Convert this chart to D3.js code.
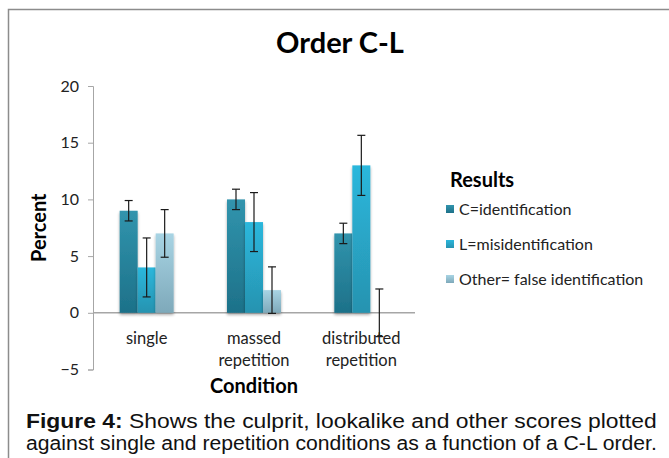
<!DOCTYPE html>
<html>
<head>
<meta charset="utf-8">
<script src="https://cdn.jsdelivr.net/npm/d3@7"></script>
<style>
  body { margin: 0; background: #fff; }
  svg { display: block; }
</style>
</head>
<body>
<div id="chart"></div>
<script>
var categories = [["single"], ["massed", "repetition"], ["distributed", "repetition"]];
var seriesNames = ["C=identification", "L=misidentification", "Other= false identification"];
var cValues = [9, 10, 7];
var lValues = [4, 8, 13];
var otherValues = [7, 2, 0];
var cErrors = [0.9, 0.9, 0.9];
var lErrors = [2.6, 2.6, 2.65];
var otherErrors = [2.1, 2.05, 2.1];
var yTicks = [-5, 0, 5, 10, 15, 20];

var series = [
  {name: seriesNames[0], values: cValues, errors: cErrors, top: "#3194ad", bottom: "#1d7189"},
  {name: seriesNames[1], values: lValues, errors: lErrors, top: "#2bb7dc", bottom: "#2793b0"},
  {name: seriesNames[2], values: otherValues, errors: otherErrors, top: "#a8d4e4", bottom: "#7ea9ba"}
];

var width = 669, height = 458;
var font = "Lato, 'Open Sans', sans-serif";
var svg = d3.select("#chart").append("svg")
  .attr("width", width)
  .attr("height", height);

var defs = svg.append("defs");
series.forEach(function(s, i){
  var g = defs.append("linearGradient")
    .attr("id", "grad" + i)
    .attr("x1", 0).attr("y1", 0).attr("x2", 0).attr("y2", 1);
  g.append("stop").attr("offset", "0%").attr("stop-color", s.top);
  g.append("stop").attr("offset", "100%").attr("stop-color", s.bottom);
});
var filt = defs.append("filter").attr("id", "shadow")
  .attr("x", "-20%").attr("y", "-10%").attr("width", "140%").attr("height", "130%");
filt.append("feGaussianBlur").attr("in", "SourceAlpha").attr("stdDeviation", 1.5);
filt.append("feOffset").attr("dx", 0).attr("dy", 2).attr("result", "ob");
filt.append("feComponentTransfer").append("feFuncA").attr("type", "linear").attr("slope", 0.35);
var merge = filt.append("feMerge");
merge.append("feMergeNode");
merge.append("feMergeNode").attr("in", "SourceGraphic");

// frame
svg.append("path")
  .attr("d", "M8.5," + height + "V9.5H" + width)
  .attr("fill", "none")
  .attr("stroke", "#8c8c8c")
  .attr("stroke-width", 1.5);

var x0 = d3.scaleBand()
  .domain(d3.range(categories.length))
  .range([93, 415]);
var barW = 18;
var y = d3.scaleLinear().domain([-5, 20]).range([369.5, 86]);

// title
svg.append("text")
  .attr("x", 340).attr("y", 53)
  .attr("text-anchor", "middle")
  .attr("font-family", font)
  .attr("font-weight", "bold")
  .attr("font-size", 29)
  .attr("fill", "#000")
  .text("Order C-L");

// y axis
var yAxis = svg.append("g")
  .attr("transform", "translate(93,0)")
  .call(d3.axisLeft(y).tickValues(yTicks).tickSize(5).tickPadding(9));
yAxis.select(".domain").attr("stroke", "#a6a6a6");
yAxis.selectAll(".tick line").attr("stroke", "#a6a6a6");
yAxis.selectAll(".tick text")
  .attr("font-family", font)
  .attr("font-size", 16)
  .attr("fill", "#222");

// zero line
svg.append("line")
  .attr("x1", 93).attr("x2", 415)
  .attr("y1", y(0)).attr("y2", y(0))
  .attr("stroke", "#a6a6a6")
  .attr("stroke-width", 1.5);

// bars
var groups = svg.selectAll("g.group")
  .data(categories)
  .enter()
  .append("g")
  .attr("class", "group")
  .attr("transform", function(d, i){ return "translate(" + (x0(i) + x0.bandwidth() / 2) + ",0)"; });

series.forEach(function(s, si){
  var off = (si - 1) * barW - barW / 2;
  groups.append("rect")
    .attr("x", off)
    .attr("width", barW)
    .attr("y", function(d, i){ return y(Math.max(0, s.values[i])); })
    .attr("height", function(d, i){ return Math.abs(y(s.values[i]) - y(0)); })
    .attr("fill", "url(#grad" + si + ")")
    .attr("filter", "url(#shadow)");
});

// error bars
series.forEach(function(s, si){
  var cx = (si - 1) * barW;
  groups.each(function(d, i){
    var g = d3.select(this);
    var hi = y(s.values[i] + s.errors[i]), lo = y(s.values[i] - s.errors[i]);
    g.append("line").attr("x1", cx).attr("x2", cx).attr("y1", hi).attr("y2", lo)
      .attr("stroke", "#1a1a1a").attr("stroke-width", 1.2);
    [hi, lo].forEach(function(yy){
      g.append("line").attr("x1", cx - 4).attr("x2", cx + 4).attr("y1", yy).attr("y2", yy)
        .attr("stroke", "#1a1a1a").attr("stroke-width", 1.2);
    });
  });
});

// category labels
groups.append("text")
  .attr("text-anchor", "middle")
  .attr("font-family", font)
  .attr("font-size", 16.5)
  .attr("fill", "#222")
  .selectAll("tspan")
  .data(function(d){ return d; })
  .enter()
  .append("tspan")
  .attr("x", 0)
  .attr("y", function(d, i){ return 344 + i * 22; })
  .text(function(d){ return d; });

// axis titles
svg.append("text")
  .attr("transform", "translate(46," + y(7.5) + ") rotate(-90)")
  .attr("text-anchor", "middle")
  .attr("font-family", font)
  .attr("font-weight", "bold")
  .attr("font-size", 20)
  .text("Percent");
svg.append("text")
  .attr("x", 254).attr("y", 393)
  .attr("text-anchor", "middle")
  .attr("font-family", font)
  .attr("font-weight", "bold")
  .attr("font-size", 20)
  .text("Condition");

// legend
svg.append("text")
  .attr("x", 450).attr("y", 187)
  .attr("font-family", font)
  .attr("font-weight", "bold")
  .attr("font-size", 20)
  .text("Results");
var legend = svg.selectAll("g.legend")
  .data(series)
  .enter()
  .append("g")
  .attr("class", "legend")
  .attr("transform", function(d, i){ return "translate(446," + (210 + i * 35) + ")"; });
legend.append("rect")
  .attr("x", 0).attr("y", -5).attr("width", 8).attr("height", 8)
  .attr("fill", function(d, i){ return "url(#grad" + i + ")"; });
legend.append("text")
  .attr("x", 13).attr("y", 5)
  .attr("font-family", font)
  .attr("font-size", 16)
  .attr("fill", "#222")
  .text(function(d){ return d.name; });

// caption, squeezed sideways to look like a narrow face and fill the line
var capFont = "'Liberation Sans', Arial, sans-serif";
function captionLine(yPos, parts){
  var g = svg.append("g");
  var t = g.append("text")
    .attr("x", 0).attr("y", 0)
    .attr("font-family", capFont)
    .attr("font-size", 21)
    .attr("fill", "#111");
  parts.forEach(function(p){
    t.append("tspan").attr("font-weight", p.bold ? "bold" : "normal").text(p.text);
  });
  var w = t.node().getComputedTextLength();
  g.attr("transform", "translate(26," + yPos + ") scale(" + (631 / w) + ",1)");
}
captionLine(428, [{text: "Figure 4:", bold: true}, {text: " Shows the culprit, lookalike and other scores plotted"}]);
captionLine(450, [{text: "against single and repetition conditions as a function of a C-L order."}]);
</script>
</body>
</html>
